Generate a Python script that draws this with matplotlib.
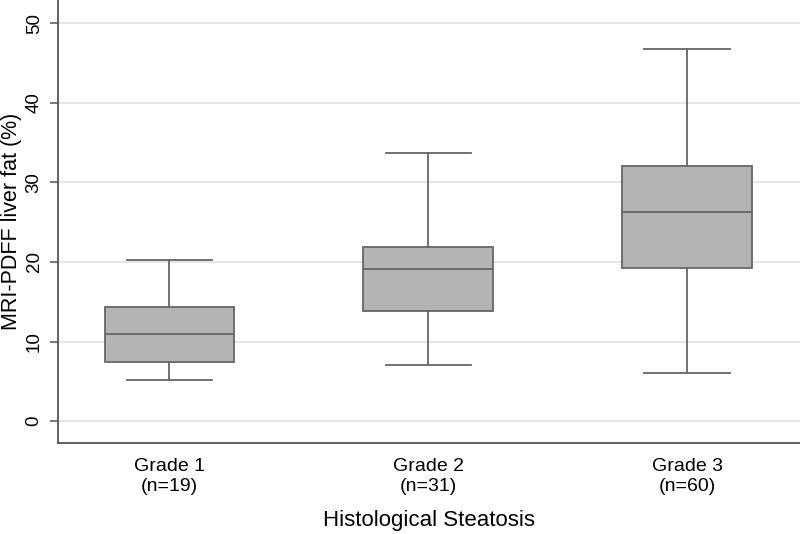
import matplotlib
matplotlib.use('Agg')
from matplotlib import pyplot as plt

plt.rcParams['font.family'] = ['Liberation Sans', 'DejaVu Sans']

# box statistics
groups = ["Grade 1\n(n=19)", "Grade 2\n(n=31)", "Grade 3\n(n=60)"]
whislo = [5.2, 7.1, 6.1]
q1 = [7.4, 13.9, 19.3]
med = [10.9, 19.1, 26.3]
q3 = [14.3, 21.9, 32.0]
whishi = [20.3, 33.7, 46.8]
yticks = [0, 10, 20, 30, 40, 50]

stats = []
for i in range(len(groups)):
    stats.append(dict(whislo=whislo[i], q1=q1[i], med=med[i], q3=q3[i],
                      whishi=whishi[i], fliers=[]))

fig = plt.figure(figsize=(8, 5.34), dpi=100)
ax = fig.add_axes([0.0725, 0.171, 0.9275, 0.829])

edge = '#666666'
ax.bxp(stats, positions=[1, 2, 3], widths=0.5, patch_artist=True,
       showfliers=False,
       boxprops=dict(facecolor='#b4b4b4', edgecolor=edge, linewidth=1.3),
       medianprops=dict(color=edge, linewidth=1.3),
       whiskerprops=dict(color=edge, linewidth=1.3),
       capprops=dict(color=edge, linewidth=1.3),
       capwidths=0.33)

ax.set_xlim(0.57, 3.436)
ax.set_ylim(-2.7, 52.9)
ax.set_yticks(yticks)
ax.set_xticks([1, 2, 3])
ax.set_xticklabels(groups, fontsize=14, linespacing=1.2)
ax.tick_params(axis='x', length=0, pad=11)
ax.tick_params(axis='y', length=6, width=1.1, color='#555555', pad=5,
               labelsize=13.5, labelrotation=90)
for lbl in ax.get_yticklabels():
    lbl.set_va('center')

ax.yaxis.grid(True, color='#e4e4e4', linewidth=1.3)
ax.set_axisbelow(True)
for s in ['top', 'right']:
    ax.spines[s].set_visible(False)
for s in ['left', 'bottom']:
    ax.spines[s].set_color('#555555')
    ax.spines[s].set_linewidth(1.3)

ax.set_ylabel('MRI-PDFF liver fat (%)', fontsize=15.5)
ax.yaxis.set_label_coords(-0.049, 0.5)
ax.set_xlabel('Histological Steatosis', fontsize=16, labelpad=11)

fig.savefig('out.png', dpi=100)
